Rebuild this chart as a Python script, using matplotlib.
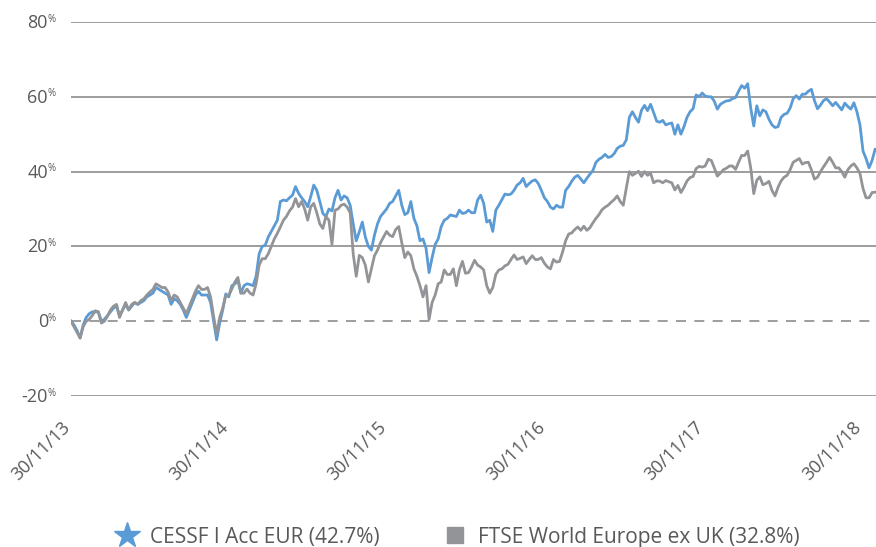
import pandas as pd
import matplotlib
matplotlib.use("Agg")
import matplotlib.pyplot as plt
from matplotlib.lines import Line2D
from matplotlib.transforms import ScaledTranslation

plt.rcParams['font.family'] = ['Open Sans', 'DejaVu Sans']

# cumulative performance in %, weekly from 30/11/13
start = "2013-11-30"
cessf = [0, -1, -2.5, -4.5, -1, 1, 2, 2.5, 2.5, 2.5,
         0, 0.5, 1.5, 2.5, 3.5, 4, 1.5, 3, 4.5, 3,
         4, 5, 4.5, 5, 5.5, 6.5, 7, 7.5, 9, 8.5,
         8, 7.5, 7, 4.5, 6, 5.5, 4.5, 3, 1, 3,
         5, 7, 8, 7, 7, 7, 5, 0, -5, -0.5,
         3, 7.3, 6.5, 9.5, 10, 10.8, 7.5, 9.5, 10, 9.8,
         9.5, 12, 18, 20, 20.3, 22.5, 24, 25.5, 27, 32,
         32.4, 32.2, 33, 33.7, 36, 34.2, 33, 32, 30.6, 33.3,
         36.4, 35, 32, 28.8, 28, 30, 29.5, 33, 35, 32.4,
         33.5, 33, 31, 26, 21.5, 23.9, 26.5, 22.5, 20, 19,
         23, 26, 28, 29, 30, 31.5, 32, 33.5, 35, 31,
         28.5, 29, 32, 27.5, 25.5, 21.5, 22, 19.5, 13, 17,
         20.5, 22, 25.3, 27, 27.5, 28.4, 28.2, 28, 29.7, 28.8,
         29, 29.7, 29, 29, 32.4, 33.7, 31.5, 26.5, 27, 24,
         29.7, 31, 32.5, 34, 33.8, 34, 35, 36.4, 37, 38.2,
         36, 36.8, 37.5, 37.8, 36.8, 35, 33, 32, 30.5, 30,
         31, 30.5, 30.5, 35, 36, 37.4, 38.5, 39, 38, 37,
         38.2, 39.3, 40.3, 42.5, 43.3, 43.8, 44.6, 43.8, 44, 44.8,
         46.2, 46.8, 47, 48.5, 54.5, 56, 54.5, 53.2, 56.4, 57.7,
         56.3, 58, 55.8, 53.5, 53.2, 53.7, 52.5, 52.8, 53, 50,
         52.5, 50, 52, 54.5, 56, 56.8, 60.5, 60, 61, 60.2,
         60, 60, 58.8, 56.7, 58, 58.5, 58.9, 59, 59.5, 59.8,
         61.5, 63, 62.3, 63.5, 57, 52.2, 57.6, 54.9, 56.5, 56,
         54, 52.5, 51.8, 52, 54.5, 55.3, 55.6, 57, 59.5, 60.3,
         59.4, 60.7, 60.7, 61.5, 62, 59, 56.8, 57.8, 59, 59.5,
         58.6, 57.6, 58.5, 57.5, 56.5, 58.3, 57.4, 56.7, 58.4, 56,
         52.5, 45.5, 43.5, 41, 43, 46, 45.5]
ftse = [0, -1.5, -3, -4.5, -1.5, 0, 0.5, 1.5, 2.8, 2.5,
        -0.5, 0, 1.3, 3, 4, 4.5, 1, 3, 5, 3,
        4.5, 5, 4.5, 5.5, 6, 7, 7.8, 8.5, 10, 9.5,
        9, 9, 7.8, 5.5, 7, 6.5, 5, 3.5, 2, 4,
        6, 8, 9.5, 8.5, 8.5, 9, 6.5, 1.3, -3.5, 1,
        3.5, 6.8, 7, 8.6, 10.5, 11.7, 7.5, 7.5, 8.6, 7.5,
        7, 10, 15, 16.7, 16.7, 18, 20, 22, 23.5, 25.2,
        27, 28, 29.5, 30.5, 32.8, 30.6, 32, 30, 27, 30.6,
        31.5, 29, 26, 24.8, 28, 27, 20.5, 29.7, 30, 31,
        31.3, 30.5, 29, 18, 12, 17.6, 17, 15, 10.5, 14,
        17.5, 19, 21, 22.5, 24, 23, 22.6, 24.5, 25.3, 21,
        17, 18.5, 17.5, 14, 12, 9.5, 6.5, 9.5, 0.5, 5,
        7, 10, 10.5, 13.7, 12.5, 12.5, 14, 9.5, 13.7, 16,
        12.8, 13, 14.5, 16.3, 15, 14.5, 13.7, 9.5, 7.5, 9,
        12.5, 13.7, 14, 14.8, 15.2, 16.5, 17.7, 16.5, 16.8, 17.2,
        15.4, 16.5, 17.5, 16.5, 16.5, 17, 15.5, 14.5, 14, 16.5,
        15.8, 16, 18.5, 21.5, 23.3, 23.6, 24.5, 25.2, 24.3, 25.4,
        24.3, 25, 26.3, 27.5, 28.5, 29.8, 30.5, 31, 31.8, 32.5,
        33.5, 32, 31, 35.6, 40, 39, 39.5, 40.1, 38.7, 40,
        39, 39.6, 37, 37.5, 37.5, 37, 37.6, 37.3, 37, 35.1,
        36.3, 34.4, 35.8, 37.5, 38.4, 38.7, 40.8, 41.4, 41.2, 41.5,
        43.3, 43, 41, 38.8, 39.6, 40.5, 40.9, 41.5, 41.5, 40.6,
        42.5, 44.3, 44.3, 45.5, 41, 34.1, 37.7, 38.6, 36.5, 36.8,
        37.4, 35, 33.5, 35.8, 37.5, 38.5, 39, 40.5, 42.5, 43,
        43.5, 42, 42.4, 42.5, 40.5, 38, 38.5, 40, 41.3, 42.5,
        43.8, 42.5, 41, 41, 40, 38.5, 40.5, 41.5, 42.1, 41,
        39.5, 35.5, 33, 33, 34.4, 34.5, 34.5]
tick_dates = ["2013-11-30", "2014-11-30", "2015-11-30", "2016-11-30", "2017-11-30", "2018-11-30"]
tick_labels = ["30/11/13", "30/11/14", "30/11/15", "30/11/16", "30/11/17", "30/11/18"]
yticks = [-20, 0, 20, 40, 60, 80]
names = ["CESSF I Acc EUR (42.7%)", "FTSE World Europe ex UK (32.8%)"]

blue = "#5b9bd5"
grey = "#929497"
txt = "#595959"

dates = pd.date_range(start, periods=len(cessf), freq="7D")

fig = plt.figure(figsize=(8.76, 5.47), dpi=100)
ax = fig.add_axes([71 / 876, 151 / 547, 805 / 876, 374 / 547])

for v in yticks:
    if v == 0:
        ax.axhline(v, color="#8c8c8c", lw=1.2, ls=(0, (6, 5)), zorder=1)
    else:
        ax.axhline(v, color="#8c8c8c", lw=1.2, zorder=1)

ax.plot(dates, ftse, color=grey, lw=2, zorder=3)
ax.plot(dates, cessf, color=blue, lw=2, zorder=2)

ax.set_xlim(pd.Timestamp(start), pd.Timestamp("2018-12-31"))
ax.set_ylim(-20, 80)
for s in ax.spines.values():
    s.set_visible(False)
ax.set_yticks([])
ax.set_xticks(pd.to_datetime(tick_dates))
ax.set_xticklabels(tick_labels, rotation=45, ha="right", rotation_mode="anchor",
                   fontsize=13, color=txt)
ax.tick_params(axis="x", length=0, pad=6)
shift = ScaledTranslation(-10 / 100, -14 / 100, fig.dpi_scale_trans)
for lab in ax.get_xticklabels():
    lab.set_transform(lab.get_transform() + shift)

for v in yticks:
    ax.annotate(str(v), xy=(0, v), xycoords=("axes fraction", "data"),
                xytext=(-23, -1), textcoords="offset pixels",
                ha="right", va="center", fontsize=13, color=txt)
    ax.annotate("%", xy=(0, v), xycoords=("axes fraction", "data"),
                xytext=(-24, 3), textcoords="offset pixels",
                ha="left", va="center", fontsize=7, color=txt)

handles = [Line2D([], [], ls="none", marker="*", color=blue, markersize=19),
           Line2D([], [], ls="none", marker="s", color=grey, markersize=11)]
fig.legend(handles, names, loc="center", bbox_to_anchor=(0.522, 0.018), ncol=2,
           frameon=False, fontsize=15, labelcolor=txt, columnspacing=3.0,
           handletextpad=0.5, handlelength=1.2)

fig.savefig("out.png", dpi=100)
